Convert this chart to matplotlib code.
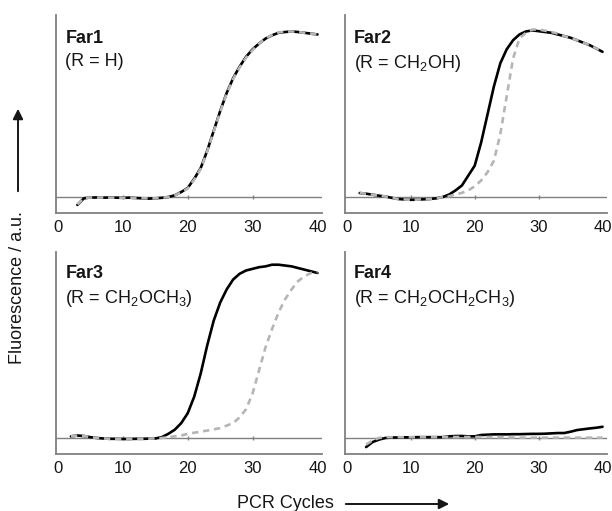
import numpy as np
import matplotlib
matplotlib.use("Agg")
import matplotlib.pyplot as plt

plt.rcParams['font.family'] = ['Liberation Sans', 'DejaVu Sans']
plt.rcParams['mathtext.fontset'] = 'custom'
plt.rcParams['mathtext.rm'] = 'Liberation Sans'
plt.rcParams['mathtext.it'] = 'Liberation Sans:italic'
plt.rcParams['mathtext.bf'] = 'Liberation Sans:bold'

# -------------------- data -------------------- #
# fluorescence in a.u., baseline = 0, Far1 plateau ~ 100
far1_cycles = list(range(3, 41))
far1_black = [-4.8, -0.8, -0.3, -0.3, -0.4, -0.3, -0.4, -0.5, -0.4, -0.6, -0.8, -1.0,
              -0.8, -0.5, 0.0, 1.0, 3.0, 5.5, 11, 17.5, 28, 40, 52, 63, 72, 79, 85,
              89.5, 93, 96, 98, 99.5, 100, 100.3, 100, 99.5, 99, 98.5]
far1_gray = [-4.5, -0.7, -0.3, -0.4, -0.3, -0.4, -0.4, -0.5, -0.5, -0.6, -0.7, -0.9,
             -0.8, -0.5, 0.0, 0.9, 2.8, 5.2, 10.5, 17, 27.5, 39.5, 51.5, 62.5, 71.5,
             78.5, 84.5, 89, 93, 96, 98.2, 99.7, 100.2, 100.3, 100, 99.5, 99, 98.5]

far2_cycles = list(range(2, 41))
far2_black = [2.4, 2.0, 1.4, 0.8, 0.3, -0.5, -1.2, -1.5, -1.7, -1.6, -1.4, -1.2, -0.8,
              0.0, 1.5, 4, 7, 13, 19, 33, 50, 67, 81, 89.5, 95, 98.5, 100.3, 101,
              100.5, 100, 99.5, 98.5, 97.5, 96.5, 95, 93.5, 92, 90, 88]
far2_gray = [2.4, 2.0, 1.4, 0.8, 0.3, -0.5, -1.2, -1.5, -1.7, -1.6, -1.4, -1.2, -0.8,
             0.0, 0.5, 1.5, 2.5, 4, 6.5, 10, 15, 22, 38, 61, 84, 96, 99.5, 101.5,
             101.5, 100.8, 100, 99, 97.5, 96.5, 95, 93.5, 92, 90, 88]

far3_cycles = list(range(2, 41))
far3_black = [1.0, 1.5, 1.2, 0.5, 0.0, -0.3, -0.5, -0.5, -0.6, -0.6, -0.5, -0.5, -0.4,
              -0.3, 0.5, 2.5, 5, 9, 15, 25, 39, 56, 71, 82, 90, 96, 99.5, 101.5,
              102.5, 103.5, 104, 105, 105, 104.5, 104, 103, 102, 101, 100]
far3_gray = [1.0, 1.5, 1.2, 0.5, 0.0, -0.3, -0.5, -0.5, -0.6, -0.6, -0.5, -0.5, -0.4,
             -0.3, 0.0, 0.5, 1.0, 1.5, 2.5, 3.2, 3.8, 4.5, 5.2, 6.0, 7.5, 9, 12.5,
             17.5, 27, 41, 55, 66, 76, 84, 90, 95, 98, 100, 100.5]

far4_cycles = list(range(3, 41))
far4_black = [-5.5, -2.5, -1.0, 0.0, 0.3, 0.3, 0.4, 0.4, 0.5, 0.5, 0.5, 0.5, 0.5, 1.0,
              1.2, 1.2, 1.0, 1.0, 1.8, 2.0, 2.2, 2.2, 2.2, 2.3, 2.3, 2.4, 2.5, 2.5,
              2.6, 2.8, 3.0, 3.0, 3.8, 4.8, 5.3, 5.8, 6.2, 6.8]
far4_gray = [-4.0, -1.5, 0.0, 0.5, 0.5, 0.5, 0.5, 0.5, 0.5, 0.5, 0.5, 0.5, 0.5, 0.6,
             0.6, 0.6, 0.6, 0.6, 0.6, 0.6, 0.5, 0.5, 0.4, 0.3, 0.2, 0.2, 0.2, 0.2,
             0.2, 0.2, 0.2, 0.2, 0.2, 0.2, 0.2, 0.2, 0.2, 0.2]

panel_names = ["Far1", "Far2", "Far3", "Far4"]
panel_subs = ["(R = H)", r"(R = CH$_2$OH)", r"(R = CH$_2$OCH$_3$)",
              r"(R = CH$_2$OCH$_2$CH$_3$)"]
x_ticks = [0, 10, 20, 30, 40]

panels = [
    (far1_cycles, far1_black, far1_gray),
    (far2_cycles, far2_black, far2_gray),
    (far3_cycles, far3_black, far3_gray),
    (far4_cycles, far4_black, far4_gray),
]

# -------------------- layout -------------------- #
W, H = 612, 511
fig = plt.figure(figsize=(W / 100, H / 100), dpi=100)

def px_rect(x0, x1, ytop, ybot):
    return [x0 / W, 1 - ybot / H, (x1 - x0) / W, (ybot - ytop) / H]

rects = [
    px_rect(56, 322, 15, 213),
    px_rect(345, 607, 15, 213),
    px_rect(56, 322, 252, 454),
    px_rect(345, 607, 252, 454),
]
ylims = [(-9.7, 110.3), (-9.7, 110.3), (-9.7, 112.7), (-9.7, 112.7)]
spine_col = "#808080"
text_col = "#161616"

for i, (rect, (cyc, blk, gry)) in enumerate(zip(rects, panels)):
    ax = fig.add_axes(rect)
    ax.set_xlim(-0.3, 40.7)
    ax.set_ylim(*ylims[i])
    for s in ["top", "right"]:
        ax.spines[s].set_visible(False)
    for s in ["left", "bottom"]:
        ax.spines[s].set_color(spine_col)
        ax.spines[s].set_linewidth(1.3)
    ax.set_yticks([])
    ax.set_xticks(x_ticks)
    ax.tick_params(axis="x", length=0, pad=5, labelsize=12, colors=text_col)

    # baseline with tiny ticks
    ax.axhline(0, color=spine_col, lw=1.0, zorder=1)
    ax.plot(x_ticks[1:-1], np.zeros(len(x_ticks) - 2), ls="none", marker="|",
            ms=3, mew=1.0, color=spine_col, zorder=1)

    ax.plot(cyc, blk, color="black", lw=1.9, solid_capstyle="round", zorder=2)
    ax.plot(cyc, gry, color="#b5b5b5", lw=1.9, ls=(0, (2.4, 1.8)), zorder=3)

    ytop = 0.925 if i < 2 else 0.935
    ax.text(0.035, ytop, panel_names[i], transform=ax.transAxes, ha="left",
            va="top", fontsize=13, fontweight="bold", color=text_col)
    ax.text(0.035, ytop - 0.115, panel_subs[i], transform=ax.transAxes,
            ha="left", va="top", fontsize=13, color=text_col)

# axis labels with arrows
fig.text(18 / W, 1 - 364 / H, "Fluorescence / a.u.", rotation=90, ha="center",
         va="bottom", fontsize=13, color=text_col)
fig.patches.append(matplotlib.patches.FancyArrowPatch(
    (18 / W, 1 - 194 / H), (18 / W, 1 - 106 / H), transform=fig.transFigure,
    arrowstyle="-|>,head_length=4,head_width=2", mutation_scale=1.5,
    color=text_col, lw=1.4))

fig.text(237 / W, 1 - 504 / H, "PCR Cycles", ha="left", va="center",
         fontsize=13, color=text_col)
fig.patches.append(matplotlib.patches.FancyArrowPatch(
    (343 / W, 1 - 504 / H), (452 / W, 1 - 504 / H), transform=fig.transFigure,
    arrowstyle="-|>,head_length=4,head_width=2", mutation_scale=1.5,
    color=text_col, lw=1.4))

fig.savefig("out.png", dpi=100, facecolor="white")
